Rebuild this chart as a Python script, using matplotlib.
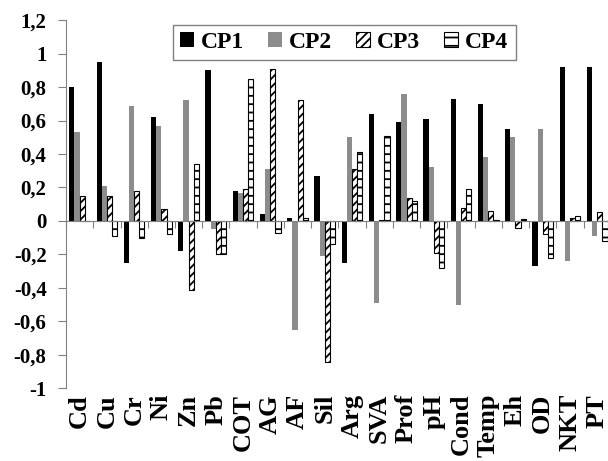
import numpy as np
import matplotlib
matplotlib.use('Agg')
import matplotlib.pyplot as plt

plt.rcParams['font.family'] = 'Liberation Serif'
plt.rcParams['font.weight'] = 'bold'
plt.rcParams['hatch.linewidth'] = 1.3

categories = ['Cd', 'Cu', 'Cr', 'Ni', 'Zn', 'Pb', 'COT', 'AG', 'AF', 'Sil',
              'Arg', 'SVA', 'Prof', 'pH', 'Cond', 'Temp', 'Eh', 'OD', 'NKT', 'PT']

cp1 = [0.80, 0.95, -0.25, 0.62, -0.18, 0.90, 0.18, 0.04, 0.02, 0.27,
       -0.25, 0.64, 0.59, 0.61, 0.73, 0.70, 0.55, -0.27, 0.92, 0.92]
cp2 = [0.53, 0.21, 0.685, 0.57, 0.725, -0.05, 0.17, 0.31, -0.65, -0.21,
       0.50, -0.49, 0.76, 0.32, -0.50, 0.38, 0.50, 0.55, -0.24, -0.09]
cp3 = [0.15, 0.15, 0.18, 0.07, -0.41, -0.20, 0.19, 0.91, 0.72, -0.84,
       0.31, 0.005, 0.14, -0.19, 0.08, 0.06, -0.04, -0.08, 0.02, 0.055]
cp4 = [0.0, -0.09, -0.10, -0.08, 0.34, -0.20, 0.85, -0.07, 0.02, -0.14,
       0.41, 0.51, 0.12, -0.28, 0.19, 0.005, 0.01, -0.22, 0.03, -0.12]

yticks = [1.2, 1.0, 0.8, 0.6, 0.4, 0.2, 0.0, -0.2, -0.4, -0.6, -0.8, -1.0]
ytick_labels = ['1,2', '1', '0,8', '0,6', '0,4', '0,2', '0',
                '-0,2', '-0,4', '-0,6', '-0,8', '-1']

fig = plt.figure(figsize=(6.08, 4.61), dpi=100)
ax = fig.add_axes([0.1086, 0.1575, 0.896, 0.799])

x = np.arange(len(categories))
w = 0.19
ax.bar(x - 1.5 * w, cp1, w, color='black', label='CP1')
ax.bar(x - 0.5 * w, cp2, w, color='#8c8c8c', label='CP2')
ax.bar(x + 0.5 * w, cp3, w, color='white', edgecolor='black', linewidth=0.8,
       hatch='////', label='CP3')
ax.bar(x + 1.5 * w, cp4, w, color='white', edgecolor='black', linewidth=0.8,
       hatch='--', label='CP4')

ax.set_xlim(-0.5, len(categories) - 0.5)
ax.set_ylim(-1.0, 1.2)

# spines: left gray, zero line as the x axis
for s in ['top', 'right']:
    ax.spines[s].set_visible(False)
ax.spines['left'].set_color('#808080')
ax.spines['bottom'].set_position(('data', 0))
ax.spines['bottom'].set_color('#808080')

ax.set_yticks(yticks)
ax.set_yticklabels(ytick_labels, fontsize=15, fontweight='bold')
ax.tick_params(axis='y', length=6, color='#808080', pad=8)

# tick marks between categories on the zero line
ax.set_xticks(np.arange(len(categories) + 1) - 0.5)
ax.set_xticklabels([])
ax.tick_params(axis='x', length=5, color='#808080')

# category labels along the bottom
sec = ax.secondary_xaxis(0)
sec.set_xticks(x)
sec.set_xticklabels(categories, rotation=90, fontsize=19, fontweight='bold')
sec.tick_params(length=0, pad=4)
sec.spines['bottom'].set_visible(False)

leg = ax.legend(ncol=4, loc='upper center', bbox_to_anchor=(0.566, 0.972),
                bbox_transform=fig.transFigure, fontsize=17, frameon=True,
                fancybox=False, edgecolor='#606060', handlelength=0.6,
                handleheight=0.6, handletextpad=0.3, columnspacing=1.0,
                borderpad=0.3, prop={'weight': 'bold', 'size': 17})
leg.get_frame().set_linewidth(1.0)

fig.savefig('out.png', dpi=100)
